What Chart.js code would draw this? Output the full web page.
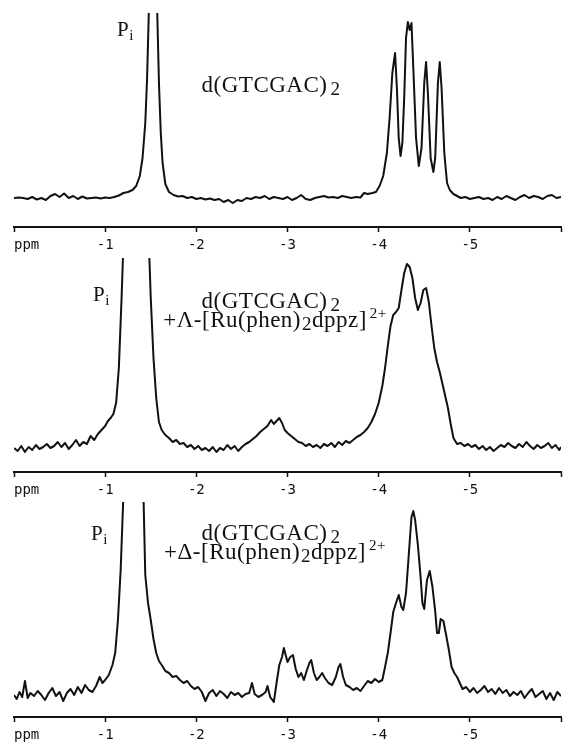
<!DOCTYPE html>
<html>
<head>
<meta charset="utf-8">
<script src="https://cdn.jsdelivr.net/npm/chart.js@4.4.1/dist/chart.umd.min.js"></script>
<style>
  body { margin: 0; background: #fff; }
  #wrap { position: relative; width: 566px; height: 742px; }
  canvas { position: absolute; left: 0; }
</style>
</head>
<body>
<div id="wrap">
  <canvas id="c1" width="566" height="258" style="top:0px"></canvas>
  <canvas id="c2" width="566" height="242" style="top:258px"></canvas>
  <canvas id="c3" width="566" height="242" style="top:500px"></canvas>
</div>
<script>
// tick labels on the ppm axis
const tickPpm = [-1, -2, -3, -4, -5];
const axisName = 'ppm';

// spectrum 1: d(GTCGAC)2
const shift1 = [
  0, -0.05, -0.10, -0.15, -0.20, -0.25, -0.30, -0.35, -0.40, -0.45,
  -0.50, -0.55, -0.60, -0.65, -0.70, -0.75, -0.80, -0.85, -0.90, -0.95,
  -1.00, -1.05, -1.10, -1.15, -1.20, -1.25, -1.30, -1.34, -1.38, -1.41,
  -1.44, -1.46, -1.48, -1.50, -1.525, -1.55, -1.57, -1.59, -1.61, -1.63,
  -1.66, -1.70, -1.75, -1.80, -1.85, -1.90, -1.95, -2.00, -2.05, -2.10,
  -2.15, -2.20, -2.25, -2.30, -2.35, -2.40, -2.45, -2.50, -2.55, -2.60,
  -2.65, -2.70, -2.75, -2.80, -2.85, -2.90, -2.95, -3.00, -3.05, -3.10,
  -3.15, -3.20, -3.25, -3.30, -3.35, -3.40, -3.45, -3.50, -3.55, -3.60,
  -3.65, -3.70, -3.75, -3.80, -3.84, -3.88, -3.93, -3.97, -4.01, -4.05,
  -4.09, -4.12, -4.15, -4.18, -4.20, -4.22, -4.24, -4.26, -4.28, -4.30,
  -4.32, -4.34, -4.36, -4.38, -4.41, -4.44, -4.47, -4.50, -4.52, -4.54,
  -4.57, -4.60, -4.62, -4.65, -4.67, -4.69, -4.72, -4.75, -4.78, -4.82,
  -4.86, -4.90, -4.95, -5.00, -5.05, -5.10, -5.15, -5.20, -5.25, -5.30,
  -5.35, -5.40, -5.45, -5.50, -5.55, -5.60, -5.65, -5.70, -5.75, -5.80,
  -5.85, -5.90, -5.95, -6.00
];
const int1 = [
  0, 0.5, 0, -1, 1, -1.5, 0, -2, 2, 4,
  1, 4.5, 0, 2, -1, 1.5, -0.5, 0, 0.5, -0.5,
  0.5, 0, 1, 2.5, 5, 6, 8, 12, 22, 40,
  75, 120, 190, 320, 520, 320, 190, 115, 65, 35,
  14, 6, 3, 1.5, 2, 0, 1, -1, 0, -1.5,
  -0.5, -2, -1, -4, -2, -5, -2, -3, 0, -1,
  1, 0, 2, -1, 1, 0, -1, 1, -2, 0,
  3, -1, -2, 0, 1, 2, 0.5, 1, 0, 2,
  1, 0, 1, 0.5, 5, 4, 5, 6, 12, 22,
  45, 80, 125, 145, 110, 60, 42, 55, 100, 160,
  176, 168, 175, 130, 60, 32, 50, 115, 136, 105,
  40, 26, 40, 115, 136, 110, 45, 15, 8, 4,
  2, 0, 1, -1, 0, 1, -1, 0, -2, 1,
  -1, 2, 0, -2, 1, 3, 0, 2, 1, -1,
  2, 3, 0, 1
];

// spectrum 2: + Lambda isomer
const shift2 = [
  0, -0.04, -0.08, -0.12, -0.16, -0.20, -0.24, -0.28, -0.32, -0.36,
  -0.40, -0.44, -0.48, -0.52, -0.56, -0.60, -0.64, -0.68, -0.72, -0.76,
  -0.80, -0.84, -0.88, -0.92, -0.96, -1.00, -1.03, -1.06, -1.09, -1.12,
  -1.15, -1.18, -1.21, -1.34, -1.47, -1.50, -1.53, -1.56, -1.59, -1.62,
  -1.66, -1.70, -1.74, -1.78, -1.82, -1.86, -1.90, -1.94, -1.98, -2.02,
  -2.06, -2.10, -2.14, -2.18, -2.22, -2.26, -2.30, -2.34, -2.38, -2.42,
  -2.46, -2.50, -2.54, -2.58, -2.62, -2.66, -2.70, -2.74, -2.78, -2.82,
  -2.85, -2.88, -2.91, -2.94, -2.97, -3.00, -3.04, -3.08, -3.12, -3.16,
  -3.20, -3.24, -3.28, -3.32, -3.36, -3.40, -3.44, -3.48, -3.52, -3.56,
  -3.60, -3.64, -3.68, -3.72, -3.76, -3.80, -3.84, -3.88, -3.92, -3.96,
  -4.00, -4.04, -4.07, -4.10, -4.13, -4.16, -4.19, -4.22, -4.25, -4.28,
  -4.31, -4.34, -4.37, -4.40, -4.43, -4.46, -4.49, -4.52, -4.55, -4.58,
  -4.61, -4.64, -4.67, -4.70, -4.73, -4.76, -4.79, -4.82, -4.86, -4.90,
  -4.94, -4.98, -5.02, -5.06, -5.10, -5.14, -5.18, -5.22, -5.26, -5.30,
  -5.34, -5.38, -5.42, -5.46, -5.50, -5.54, -5.58, -5.62, -5.66, -5.70,
  -5.74, -5.78, -5.82, -5.86, -5.90, -5.94, -5.98, -6.00
];
const int2 = [
  0, -3, 2, -4, 1, -2, 3, -1, 1, 4,
  0, 2, 6, 1, 5, -1, 3, 8, 2, 6,
  4, 12, 8, 14, 18, 22, 27, 30, 34, 45,
  80, 150, 230, 520, 230, 150, 90, 50, 26, 18,
  13, 10, 6, 8, 4, 5, 1, 3, -1, 2,
  -2, 0, -3, 1, -4, 0, -2, 3, -1, 2,
  -3, 1, 4, 6, 9, 12, 16, 19, 22, 28,
  24, 27, 30, 25, 18, 15, 12, 9, 6, 5,
  2, 4, 1, 3, 0, 4, 2, 5, 1, 6,
  3, 7, 5, 8, 11, 13, 16, 20, 26, 34,
  45, 62, 80, 102, 122, 133, 136, 140, 158, 175,
  184, 181, 170, 150, 138, 145, 158, 160, 146, 122,
  100, 86, 76, 64, 52, 40, 24, 10, 4, 5,
  2, 4, 1, 3, -1, 2, -2, 1, -3, 0,
  3, 1, 5, 2, 0, 4, 1, 6, 2, -1,
  3, 0, 2, 5, 0, 3, -2, 1
];

// spectrum 3: + Delta isomer
const shift3 = [
  0, -0.03, -0.06, -0.09, -0.12, -0.15, -0.18, -0.22, -0.26, -0.30,
  -0.34, -0.38, -0.42, -0.46, -0.50, -0.54, -0.58, -0.62, -0.66, -0.70,
  -0.74, -0.78, -0.82, -0.86, -0.90, -0.94, -0.97, -1.00, -1.04, -1.08,
  -1.11, -1.14, -1.17, -1.20, -1.31, -1.42, -1.44, -1.47, -1.50, -1.53,
  -1.56, -1.59, -1.62, -1.66, -1.70, -1.74, -1.78, -1.82, -1.86, -1.90,
  -1.94, -1.98, -2.02, -2.06, -2.10, -2.14, -2.18, -2.22, -2.26, -2.30,
  -2.34, -2.38, -2.42, -2.46, -2.50, -2.54, -2.58, -2.61, -2.64, -2.68,
  -2.72, -2.76, -2.78, -2.81, -2.85, -2.88, -2.91, -2.94, -2.96, -2.98,
  -3.00, -3.03, -3.06, -3.09, -3.12, -3.15, -3.18, -3.21, -3.24, -3.26,
  -3.29, -3.32, -3.35, -3.38, -3.41, -3.45, -3.49, -3.53, -3.56, -3.58,
  -3.61, -3.64, -3.68, -3.72, -3.76, -3.80, -3.84, -3.88, -3.92, -3.96,
  -4.00, -4.04, -4.07, -4.10, -4.13, -4.16, -4.19, -4.22, -4.25, -4.27,
  -4.30, -4.33, -4.36, -4.38, -4.40, -4.43, -4.46, -4.48, -4.50, -4.53,
  -4.56, -4.59, -4.62, -4.64, -4.66, -4.68, -4.71, -4.74, -4.77, -4.80,
  -4.83, -4.86, -4.89, -4.92, -4.96, -5.00, -5.04, -5.08, -5.12, -5.16,
  -5.20, -5.24, -5.28, -5.32, -5.36, -5.40, -5.44, -5.48, -5.52, -5.56,
  -5.60, -5.64, -5.68, -5.72, -5.76, -5.80, -5.84, -5.88, -5.92, -5.96,
  -6.00
];
const int3 = [
  0, -4, 3, -2, 14, -3, 2, -1, 4, 0,
  -5, 2, 7, -1, 3, -6, 2, 6, 0, 8,
  2, 10, 5, 3, 9, 18, 12, 15, 20, 30,
  42, 75, 125, 200, 520, 200, 120, 92, 75, 56,
  42, 34, 30, 24, 22, 18, 19, 15, 12, 14,
  9, 6, 8, 3, -6, 2, 5, -1, 4, 1,
  -3, 3, 0, 2, -2, 1, 2, 12, 1, -2,
  0, 3, 9, -2, -7, 12, 30, 38, 47, 40,
  33, 38, 40, 26, 18, 22, 15, 24, 32, 35,
  22, 15, 18, 22, 17, 12, 10, 18, 28, 31,
  18, 10, 8, 5, 7, 4, 9, 14, 12, 16,
  13, 15, 28, 42, 62, 83, 92, 100, 88, 85,
  102, 140, 178, 184, 175, 150, 118, 92, 86, 115,
  124, 108, 84, 62, 62, 76, 74, 60, 45, 28,
  22, 18, 12, 6, 8, 3, 7, 2, 5, 9,
  3, 6, 1, 7, 2, 5, -1, 3, 0, 4,
  -3, 2, 6, -2, 1, 4, -4, 2, -5, 3,
  -1
];

const serif = '"Liberation Serif", "Times New Roman", serif';
const mono = '"DejaVu Sans Mono", monospace';

// draw a line of text made of pieces (subscripts / superscripts)
function drawRich(ctx, parts, x, y, align) {
  ctx.letterSpacing = '0.5px';
  let w = 0;
  parts.forEach(p => {
    ctx.font = p.size + 'px ' + serif;
    p.w = ctx.measureText(p.t).width + (p.gap || 0);
    w += p.w;
  });
  let cx = align === 'center' ? x - w / 2 : x;
  parts.forEach(p => {
    ctx.font = p.size + 'px ' + serif;
    ctx.fillText(p.t, cx + (p.gap || 0), y + (p.dy || 0));
    cx += p.w;
  });
  ctx.letterSpacing = '0px';
}

function labelPlugin(items) {
  return {
    id: 'specLabels',
    afterDraw(chart) {
      const ctx = chart.ctx;
      const xs = chart.scales.x;
      ctx.save();
      ctx.fillStyle = '#111';
      ctx.textAlign = 'left';
      // "ppm" at the left end of the axis, level with the tick labels
      ctx.font = '14px ' + mono;
      ctx.textBaseline = 'middle';
      ctx.fillText(axisName, xs.getPixelForValue(0), xs.top + 5 + 5 + 8.4);
      ctx.textBaseline = 'alphabetic';
      items.forEach(it => drawRich(ctx, it.parts, it.x, it.y, it.align));
      ctx.restore();
    }
  };
}

function makeChart(id, xs, ys, o) {
  const pts = xs.map((x, i) => ({ x: x, y: ys[i] }));
  return new Chart(document.getElementById(id), {
    type: 'line',
    data: {
      datasets: [{
        data: pts,
        borderColor: '#111',
        borderWidth: 2,
        pointRadius: 0,
        tension: 0,
        borderJoinStyle: 'round'
      }]
    },
    options: {
      responsive: false,
      animation: false,
      devicePixelRatio: 1,
      layout: { padding: { top: o.padTop, left: 14, right: 2, bottom: 0 } },
      plugins: { legend: { display: false }, tooltip: { enabled: false } },
      scales: {
        x: {
          type: 'linear',
          min: -6,
          max: 0,
          reverse: true,
          afterFit: s => { s.height = o.axisH; },
          border: { display: true, color: '#111', width: 2 },
          grid: { drawOnChartArea: false, drawTicks: true, tickLength: 5, tickWidth: 1.5, tickColor: '#111' },
          ticks: {
            stepSize: 1,
            padding: 5,
            autoSkip: false,
            maxRotation: 0,
            color: '#111',
            font: { family: mono, size: 14 },
            callback: v => tickPpm.includes(v) ? String(v) : ''
          }
        },
        y: { display: false, min: o.yMin, max: o.yMax }
      }
    },
    plugins: [labelPlugin(o.labels)]
  });
}

const pi = (x, y) => ({ parts: [{ t: 'P', size: 21 }, { t: 'i', size: 15, dy: 4 }], x: x, y: y, align: 'left' });
const dna = (y) => ({ parts: [{ t: 'd(GTCGAC)', size: 23 }, { t: '2', size: 19, dy: 3, gap: 3 }], x: 271, y: y, align: 'center' });
const ru = (iso, y) => ({
  parts: [
    { t: '+' + iso + '-[Ru(phen)', size: 23 },
    { t: '2', size: 19, dy: 3, gap: 1 },
    { t: 'dppz]', size: 23 },
    { t: '2+', size: 15, dy: -9, gap: 3 }
  ], x: 275, y: y, align: 'center'
});

makeChart('c1', shift1, int1, { padTop: 13, axisH: 31, yMin: -29, yMax: 185, labels: [pi(117, 36), dna(92)] });
makeChart('c2', shift2, int2, { padTop: 0, axisH: 28, yMin: -24, yMax: 190, labels: [pi(93, 43), dna(50), ru('Λ', 69)] });
makeChart('c3', shift3, int3, { padTop: 2, axisH: 25, yMin: -22, yMax: 193, labels: [pi(91, 40), dna(40), ru('Δ', 59)] });
</script>
</body>
</html>
